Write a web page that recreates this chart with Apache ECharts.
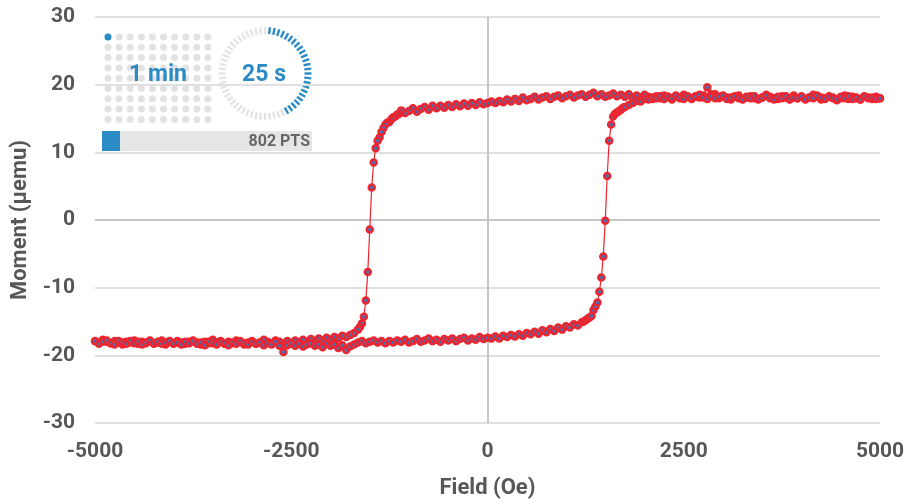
<!DOCTYPE html>
<html>
<head>
<meta charset="utf-8">
<script src="https://cdn.jsdelivr.net/npm/echarts@6/dist/echarts.min.js"></script>
<style>
  html, body { margin: 0; padding: 0; background: #fff; }
  #chart { width: 920px; height: 504px; }
</style>
</head>
<body>
<div id="chart"></div>
<script>
// field sweep +5000 -> -5000 (Oe, µemu)
const sweepDown = [
  [5000, 18.0], [4950, 18.2], [4900, 17.9], [4850, 18.1], [4800, 18.3], [4750, 17.8], [4700, 18.0], [4650, 18.2],
  [4600, 17.9], [4550, 18.4], [4500, 18.0], [4450, 17.7], [4400, 18.1], [4350, 18.3], [4300, 18.0], [4250, 17.8],
  [4200, 18.2], [4150, 18.5], [4100, 18.1], [4050, 17.9], [4000, 18.2], [3950, 18.0], [3900, 18.4], [3850, 17.8],
  [3800, 18.1], [3750, 18.3], [3700, 17.9], [3650, 18.0], [3600, 18.2], [3550, 18.5], [3500, 18.1], [3450, 17.8],
  [3400, 18.0], [3350, 18.3], [3300, 18.1], [3250, 17.9], [3200, 18.4], [3150, 18.2], [3100, 17.8], [3050, 18.1],
  [3000, 18.3], [2950, 18.0], [2900, 18.6], [2850, 18.6], [2800, 19.6], [2750, 18.4], [2700, 18.1], [2650, 18.3],
  [2600, 17.9], [2550, 18.2], [2500, 18.5], [2450, 18.0], [2400, 18.3], [2350, 17.8], [2300, 18.2], [2250, 18.4],
  [2200, 18.0], [2150, 18.3], [2100, 17.9], [2050, 18.2], [2000, 18.5], [1950, 18.1], [1900, 18.4], [1850, 18.0],
  [1800, 18.6], [1750, 18.2], [1700, 18.5], [1650, 18.3], [1600, 18.7], [1550, 18.4], [1500, 18.2], [1450, 18.6],
  [1400, 18.3], [1350, 18.8], [1300, 18.5], [1250, 18.2], [1200, 18.6], [1150, 18.4], [1100, 18.1], [1050, 18.5],
  [1000, 18.3], [950, 18.0], [900, 18.4], [850, 18.2], [800, 17.9], [750, 18.3], [700, 18.1], [650, 17.8],
  [600, 18.2], [550, 17.9], [500, 17.7], [450, 18.1], [400, 17.6], [350, 17.9], [300, 17.5], [250, 17.8],
  [200, 17.4], [150, 17.6], [100, 17.3], [50, 17.5], [0, 17.3], [-50, 17.1], [-100, 17.4], [-150, 17.0],
  [-200, 17.3], [-250, 16.9], [-300, 17.2], [-350, 16.8], [-400, 17.1], [-450, 16.7], [-500, 17.0], [-550, 16.6],
  [-600, 16.9], [-650, 16.5], [-700, 16.9], [-750, 16.3], [-800, 16.7], [-850, 16.4], [-900, 16.0], [-950, 16.5],
  [-1000, 16.1], [-1050, 15.8], [-1100, 16.2], [-1125, 15.7], [-1150, 15.6], [-1175, 15.3], [-1200, 15.2], [-1225, 14.9],
  [-1250, 14.5], [-1275, 14.4], [-1300, 14.1], [-1325, 13.6], [-1350, 13.0], [-1375, 12.2], [-1400, 11.7], [-1425, 10.6],
  [-1450, 8.5], [-1475, 4.8], [-1500, -1.4], [-1525, -7.7], [-1550, -11.9], [-1575, -14.3], [-1600, -15.3], [-1625, -15.8],
  [-1650, -16.2], [-1700, -16.7], [-1750, -17.0], [-1800, -17.3], [-1850, -17.1], [-1900, -17.5], [-1950, -17.3], [-2000, -17.7],
  [-2050, -17.4], [-2100, -17.8], [-2150, -17.5], [-2200, -17.9], [-2250, -17.6], [-2300, -18.0], [-2350, -17.7], [-2400, -18.1],
  [-2450, -17.8], [-2500, -18.2], [-2550, -17.9], [-2600, -18.3], [-2650, -18.0], [-2700, -17.8], [-2750, -18.2], [-2800, -18.0],
  [-2850, -17.7], [-2900, -18.1], [-2950, -18.3], [-3000, -17.9], [-3050, -18.1], [-3100, -18.4], [-3150, -18.0], [-3200, -17.8],
  [-3250, -18.2], [-3300, -18.0], [-3350, -18.3], [-3400, -17.9], [-3450, -18.1], [-3500, -17.7], [-3550, -18.2], [-3600, -18.0],
  [-3650, -18.4], [-3700, -18.1], [-3750, -17.8], [-3800, -18.0], [-3850, -18.3], [-3900, -18.1], [-3950, -17.9], [-4000, -18.2],
  [-4050, -18.0], [-4100, -18.4], [-4150, -17.8], [-4200, -18.1], [-4250, -18.3], [-4300, -17.9], [-4350, -18.2], [-4400, -18.0],
  [-4450, -18.3], [-4500, -17.8], [-4550, -18.1], [-4600, -18.0], [-4650, -18.4], [-4700, -18.1], [-4750, -17.9], [-4800, -18.2],
  [-4850, -18.0], [-4900, -17.7], [-4950, -18.1], [-5000, -17.9]
];

// field sweep -5000 -> +5000
const sweepUp = [
  [-4950, -18.3], [-4900, -18.0], [-4850, -17.8], [-4800, -18.2], [-4750, -18.4], [-4700, -17.9], [-4650, -18.1], [-4600, -18.3],
  [-4550, -17.9], [-4500, -18.2], [-4450, -18.0], [-4400, -18.4], [-4350, -18.1], [-4300, -17.8], [-4250, -18.2], [-4200, -18.0],
  [-4150, -18.3], [-4100, -18.1], [-4050, -17.9], [-4000, -18.3], [-3950, -18.1], [-3900, -18.4], [-3850, -18.0], [-3800, -18.2],
  [-3750, -17.9], [-3700, -18.3], [-3650, -18.1], [-3600, -18.5], [-3550, -18.0], [-3500, -18.2], [-3450, -18.4], [-3400, -18.0],
  [-3350, -18.2], [-3300, -18.5], [-3250, -18.1], [-3200, -18.3], [-3150, -17.9], [-3100, -18.2], [-3050, -18.4], [-3000, -18.0],
  [-2950, -18.3], [-2900, -18.1], [-2850, -18.5], [-2800, -18.2], [-2750, -18.4], [-2700, -18.0], [-2650, -18.6], [-2600, -19.5],
  [-2550, -18.5], [-2500, -18.2], [-2450, -18.6], [-2400, -18.3], [-2350, -18.7], [-2300, -18.4], [-2250, -18.2], [-2200, -18.6],
  [-2150, -18.4], [-2100, -18.8], [-2050, -18.3], [-2000, -18.6], [-1950, -18.4], [-1900, -18.9], [-1850, -18.5], [-1800, -19.2],
  [-1750, -18.7], [-1700, -18.4], [-1650, -18.1], [-1600, -17.9], [-1550, -18.2], [-1500, -18.0], [-1450, -17.8], [-1400, -18.1],
  [-1350, -17.9], [-1300, -18.2], [-1250, -17.9], [-1200, -18.1], [-1150, -17.8], [-1100, -18.0], [-1050, -17.7], [-1000, -18.1],
  [-950, -17.9], [-900, -17.6], [-850, -18.0], [-800, -17.8], [-750, -17.5], [-700, -17.9], [-650, -17.7], [-600, -18.0],
  [-550, -17.6], [-500, -17.8], [-450, -17.5], [-400, -17.9], [-350, -17.6], [-300, -17.4], [-250, -17.8], [-200, -17.5],
  [-150, -17.7], [-100, -17.3], [-50, -17.6], [0, -17.4], [50, -17.5], [100, -17.2], [150, -17.5], [200, -17.1],
  [250, -17.3], [300, -17.0], [350, -17.2], [400, -16.9], [450, -17.1], [500, -16.7], [550, -16.9], [600, -16.5],
  [650, -16.8], [700, -16.3], [750, -16.6], [800, -16.1], [850, -16.4], [900, -15.9], [950, -16.2], [1000, -15.7],
  [1050, -15.9], [1100, -15.4], [1150, -15.6], [1200, -15.1], [1225, -15.0], [1250, -14.8], [1275, -14.6], [1300, -14.4],
  [1325, -14.2], [1350, -13.3], [1375, -12.8], [1400, -12.2], [1425, -10.6], [1450, -8.5], [1475, -5.4], [1500, -0.1],
  [1525, 6.5], [1550, 11.7], [1575, 14.1], [1600, 15.3], [1625, 15.7], [1650, 15.9], [1675, 16.1], [1700, 16.3],
  [1725, 16.6], [1750, 16.7], [1800, 17.0], [1850, 17.3], [1900, 17.6], [1950, 17.5], [2000, 17.9], [2050, 17.8],
  [2100, 18.1], [2150, 18.0], [2200, 18.3], [2250, 17.9], [2300, 18.2], [2350, 18.0], [2400, 18.4], [2450, 18.1],
  [2500, 17.9], [2550, 18.3], [2600, 18.0], [2650, 18.2], [2700, 18.5], [2750, 18.1], [2800, 17.9], [2850, 18.3],
  [2900, 18.0], [2950, 18.2], [3000, 18.4], [3050, 17.9], [3100, 18.1], [3150, 18.3], [3200, 18.0], [3250, 17.8],
  [3300, 18.2], [3350, 18.0], [3400, 18.3], [3450, 17.9], [3500, 18.1], [3550, 18.4], [3600, 18.0], [3650, 17.8],
  [3700, 18.2], [3750, 18.0], [3800, 18.3], [3850, 17.9], [3900, 18.1], [3950, 18.0], [4000, 18.3], [4050, 17.8],
  [4100, 18.1], [4150, 18.0], [4200, 18.4], [4250, 18.1], [4300, 17.9], [4350, 18.2], [4400, 18.0], [4450, 17.8],
  [4500, 18.2], [4550, 18.0], [4600, 18.3], [4650, 17.9], [4700, 18.1], [4750, 17.8], [4800, 18.2], [4850, 18.0],
  [4900, 18.1], [4950, 17.9], [5000, 18.0]
];

const xTicks = [-5000, -2500, 0, 2500, 5000];
const yTicks = [-30, -20, -10, 0, 10, 20, 30];

const labelColor = '#575757';
const blue = '#2a8bc6';
const font = 'Roboto, "Noto Sans", sans-serif';

// status widget in the top-left corner
const widget = [];
for (let r = 0; r < 9; r++) {
  for (let c = 0; c < 10; c++) {
    widget.push({
      type: 'circle',
      shape: { cx: 108 + c * 11.1, cy: 37 + r * 10.3, r: 3.5 },
      style: { fill: r === 0 && c === 0 ? blue : '#e2e2e2' },
    });
  }
}
const cx = 265, cy = 73.5;
for (let k = 0; k < 60; k++) {
  const a = (k * 6 * Math.PI) / 180;
  widget.push({
    type: 'line',
    shape: {
      x1: cx + 39.5 * Math.sin(a), y1: cy - 39.5 * Math.cos(a),
      x2: cx + 46.5 * Math.sin(a), y2: cy - 46.5 * Math.cos(a),
    },
    style: { stroke: k >= 1 && k <= 25 ? blue : '#e4e4e4', lineWidth: 2.4 },
  });
}
widget.push(
  { type: 'text', style: { text: '1 min', x: 158, y: 75, align: 'center', verticalAlign: 'middle', fill: blue, font: 'bold 23px ' + font } },
  { type: 'text', style: { text: '25 s', x: 264, y: 75, align: 'center', verticalAlign: 'middle', fill: blue, font: 'bold 23px ' + font } },
  { type: 'rect', shape: { x: 102, y: 131, width: 210, height: 20 }, style: { fill: '#e6e6e6' } },
  { type: 'rect', shape: { x: 102, y: 131, width: 18, height: 20 }, style: { fill: blue } },
  { type: 'text', style: { text: '802 PTS', x: 310, y: 141.5, align: 'right', verticalAlign: 'middle', fill: '#666', font: 'bold 16px ' + font } }
);

const chart = echarts.init(document.getElementById('chart'));
chart.setOption({
  animation: false,
  backgroundColor: '#fff',
  grid: { left: 95, right: 40, top: 17, bottom: 79 },
  xAxis: {
    type: 'value',
    min: -5000,
    max: 5000,
    interval: 2500,
    name: 'Field (Oe)',
    nameLocation: 'middle',
    nameGap: 54,
    nameTextStyle: { color: labelColor, fontSize: 22, fontWeight: 'bold', fontFamily: font },
    axisLine: { show: false },
    axisTick: { show: false },
    axisLabel: { color: labelColor, fontSize: 21, fontWeight: 'bold', fontFamily: font, margin: 18,
      formatter: (v) => (xTicks.includes(v) ? String(v) : '') },
    splitLine: { show: true, lineStyle: { width: 2, color: ['rgba(0,0,0,0)', 'rgba(0,0,0,0)', '#c6c6c6', 'rgba(0,0,0,0)', 'rgba(0,0,0,0)'] } },
  },
  yAxis: {
    type: 'value',
    min: -30,
    max: 30,
    interval: 10,
    name: 'Moment (μemu)',
    nameLocation: 'middle',
    nameGap: 63,
    nameTextStyle: { color: labelColor, fontSize: 22, fontWeight: 'bold', fontFamily: font },
    axisLine: { show: false },
    axisTick: { show: false },
    axisLabel: { color: labelColor, fontSize: 21, fontWeight: 'bold', fontFamily: font, margin: 20,
      formatter: (v) => (yTicks.includes(v) ? String(v) : '') },
    splitLine: { lineStyle: { width: 2, color: ['#e0e0e0', '#e0e0e0', '#e0e0e0', '#c6c6c6', '#e0e0e0', '#e0e0e0', '#e0e0e0'] } },
  },
  series: [
    {
      type: 'line',
      data: sweepDown.concat(sweepUp),
      symbol: 'circle',
      symbolSize: 6,
      showSymbol: true,
      showAllSymbol: true,
      itemStyle: { color: '#4a6daf', borderColor: '#ec2630', borderWidth: 2.5 },
      lineStyle: { color: '#ec2630', width: 1.2 },
      emphasis: { disabled: true },
    },
  ],
  graphic: { elements: widget },
});
</script>
</body>
</html>
